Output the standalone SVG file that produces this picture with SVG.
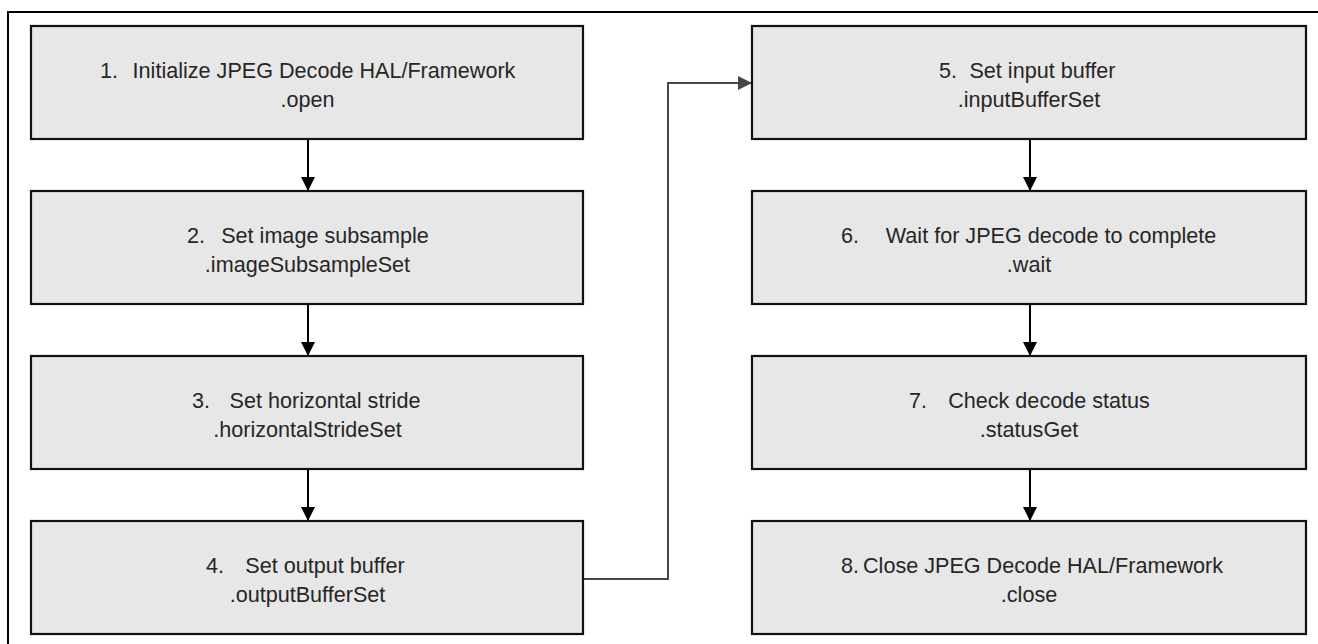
<svg xmlns="http://www.w3.org/2000/svg" width="1318" height="644" viewBox="0 0 1318 644">
<style>
.box{fill:#e7e7e7;stroke:#111;stroke-width:2.2}
.t{font-family:"Liberation Sans",Arial,sans-serif;font-size:21.6px;fill:#262626}
.m{text-anchor:middle}
.arr{stroke:#000;stroke-width:2;fill:none}
.conn{stroke:#474747;stroke-width:2;fill:none}
.frame{stroke:#000;stroke-width:2;fill:none}
</style>
<defs>
<marker id="ah" markerUnits="userSpaceOnUse" markerWidth="14" markerHeight="14" refX="14" refY="7" orient="auto">
<path d="M0,0 L14,7 L0,14 z" fill="#000"/>
</marker>
<marker id="ahg" markerUnits="userSpaceOnUse" markerWidth="14" markerHeight="14" refX="14" refY="7" orient="auto">
<path d="M0,0 L14,7 L0,14 z" fill="#474747"/>
</marker>
</defs>
<rect width="1318" height="644" fill="#fff"/>
<path class="frame" d="M8,644 V12 H1318"/>

<g id="connectors">
<line class="arr" x1="308" y1="139" x2="308" y2="191" marker-end="url(#ah)"/>
<line class="arr" x1="308" y1="304" x2="308" y2="356" marker-end="url(#ah)"/>
<line class="arr" x1="308" y1="469" x2="308" y2="521" marker-end="url(#ah)"/>
<line class="arr" x1="1030" y1="139" x2="1030" y2="191" marker-end="url(#ah)"/>
<line class="arr" x1="1030" y1="304" x2="1030" y2="356" marker-end="url(#ah)"/>
<line class="arr" x1="1030" y1="469" x2="1030" y2="521" marker-end="url(#ah)"/>
<path class="conn" d="M583,579 H668 V83 H752" marker-end="url(#ahg)"/>
</g>

<g id="node1">
<rect class="box" x="31" y="26" width="552" height="113"/>
<text class="t" x="100" y="78">1.</text>
<text class="t m" x="324" y="78">Initialize JPEG Decode HAL/Framework</text>
<text class="t m" x="307.5" y="107">.open</text>
</g>
<g id="node2">
<rect class="box" x="31" y="191" width="552" height="113"/>
<text class="t" x="187" y="243">2.</text>
<text class="t m" x="325" y="243">Set image subsample</text>
<text class="t m" x="307.5" y="272">.imageSubsampleSet</text>
</g>
<g id="node3">
<rect class="box" x="31" y="356" width="552" height="113"/>
<text class="t" x="192" y="408">3.</text>
<text class="t m" x="325" y="408">Set horizontal stride</text>
<text class="t m" x="307.5" y="437">.horizontalStrideSet</text>
</g>
<g id="node4">
<rect class="box" x="31" y="521" width="552" height="113"/>
<text class="t" x="206" y="573">4.</text>
<text class="t m" x="325" y="573">Set output buffer</text>
<text class="t m" x="307.5" y="602">.outputBufferSet</text>
</g>
<g id="node5">
<rect class="box" x="752" y="26" width="554" height="113"/>
<text class="t" x="939" y="78">5.</text>
<text class="t m" x="1042.5" y="78">Set input buffer</text>
<text class="t m" x="1029" y="107">.inputBufferSet</text>
</g>
<g id="node6">
<rect class="box" x="752" y="191" width="554" height="113"/>
<text class="t" x="841" y="243">6.</text>
<text class="t m" x="1051" y="243">Wait for JPEG decode to complete</text>
<text class="t m" x="1029" y="272">.wait</text>
</g>
<g id="node7">
<rect class="box" x="752" y="356" width="554" height="113"/>
<text class="t" x="909" y="408">7.</text>
<text class="t m" x="1049" y="408">Check decode status</text>
<text class="t m" x="1029" y="437">.statusGet</text>
</g>
<g id="node8">
<rect class="box" x="752" y="521" width="554" height="113"/>
<text class="t" x="841" y="573">8.</text>
<text class="t m" x="1043" y="573">Close JPEG Decode HAL/Framework</text>
<text class="t m" x="1029" y="602">.close</text>
</g>
</svg>
